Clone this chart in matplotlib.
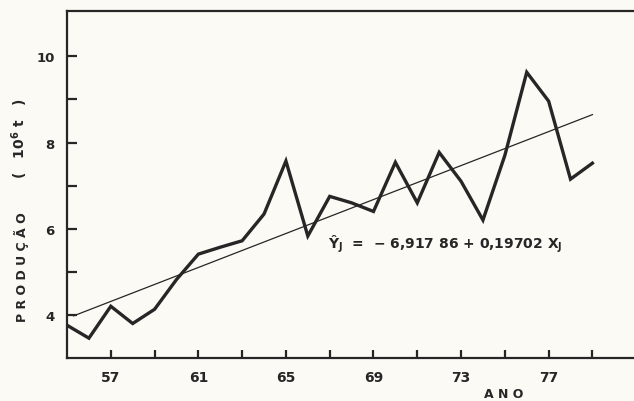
import matplotlib
matplotlib.use("Agg")
import matplotlib.pyplot as plt

# production per year (10^6 t)
anos = list(range(55, 80))
producao = [3.76, 3.46, 4.20, 3.80, 4.13, 4.82, 5.41, 5.57, 5.72, 6.34,
            7.57, 5.83, 6.75, 6.60, 6.40, 7.54, 6.60, 7.77, 7.10, 6.20,
            7.70, 9.63, 8.96, 7.15, 7.52]

# regression coefficients
a = -6.91786
b = 0.19702
reg_x = [55.3, 79.0]

major_x = [57, 61, 65, 69, 73, 77]
minor_x = [59, 63, 67, 71, 75, 79]
major_y = [4, 6, 8, 10]
minor_y = [5, 7, 9]

ink = "#262626"
paper = "#fbfaf5"

fig = plt.figure(figsize=(6.34, 4.02), dpi=100, facecolor=paper)
ax = fig.add_axes([0.1057, 0.107, 0.8943, 0.863], facecolor=paper)

ax.plot(anos, producao, color=ink, lw=2.4, solid_joinstyle="miter")
ax.plot(reg_x, [a + b * x for x in reg_x], color=ink, lw=0.9)

ax.set_xlim(55, 80.9)
ax.set_ylim(3, 11.05)

ax.spines["right"].set_visible(False)
for s in ["left", "bottom", "top"]:
    ax.spines[s].set_linewidth(1.6)
    ax.spines[s].set_color(ink)

ax.set_xticks(major_x)
ax.set_xticks(minor_x, minor=True)
ax.set_yticks(major_y)
ax.set_yticks(minor_y, minor=True)
ax.set_xticklabels([str(v) for v in major_x], fontweight="bold", fontsize=10, color=ink)
ax.set_yticklabels([str(v) for v in major_y], fontweight="bold", fontsize=9.5, color=ink)
ax.tick_params(axis="x", which="both", direction="in", length=6, width=1.6, color=ink, pad=9)
ax.tick_params(axis="y", which="both", direction="in", length=7, width=1.6, color=ink, pad=9)

# axis labels
fig.text(0.034, 0.336, "P R O D U Ç Ã O", rotation=90, ha="center", va="center",
         fontsize=9, fontweight="bold", color=ink)
fig.text(0.031, 0.655, "(   10$^{\\mathbf{6}}$ t   )", rotation=90, ha="center", va="center",
         fontsize=10, fontweight="bold", color=ink)
fig.text(0.794, 0.018, "A N O", ha="center", va="center",
         fontsize=9, fontweight="bold", color=ink)

# regression equation
ax.text(0.46, 0.33, "Ŷ$_\\mathbf{J}$  =  − 6,917 86 + 0,19702 X$_\\mathbf{J}$",
        transform=ax.transAxes, ha="left", va="center",
        fontsize=10, fontweight="bold", color=ink)

fig.savefig("out.png", dpi=100, facecolor=paper)
